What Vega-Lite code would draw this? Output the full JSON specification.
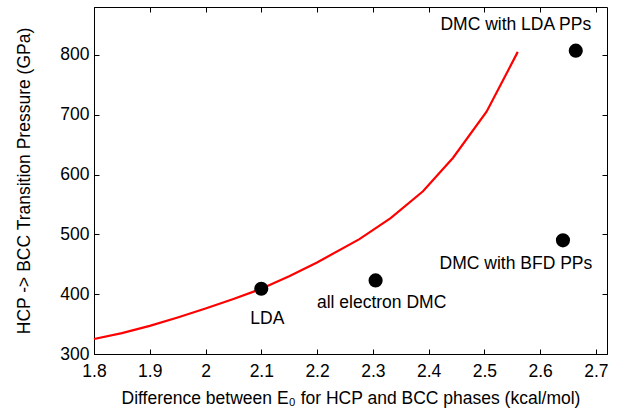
{
  "$schema": "https://vega.github.io/schema/vega-lite/v6.json",
  "width": 513,
  "height": 347,
  "autosize": "none",
  "padding": {"left": 94, "top": 7, "right": 17, "bottom": 57},
  "background": "white",
  "config": {
    "view": {"stroke": "black", "strokeWidth": 1},
    "font": "Liberation Sans",
    "axis": {
      "grid": false,
      "domainColor": "black",
      "tickColor": "black",
      "tickSize": -5,
      "labelFlush": false,
      "labelOverlap": false,
      "labelFont": "Liberation Sans",
      "labelFontSize": 17.5,
      "labelColor": "black",
      "titleFont": "Liberation Sans",
      "titleFontSize": 17.5,
      "titleFontWeight": "normal",
      "titleColor": "black"
    }
  },
  "datasets": {
    "curve": [
      {"x": 1.8, "y": 325},
      {"x": 1.85, "y": 335},
      {"x": 1.9, "y": 347},
      {"x": 1.95, "y": 361},
      {"x": 2.0, "y": 376},
      {"x": 2.05, "y": 392},
      {"x": 2.1, "y": 409},
      {"x": 2.15, "y": 430},
      {"x": 2.2, "y": 453},
      {"x": 2.276, "y": 492},
      {"x": 2.332, "y": 527},
      {"x": 2.39, "y": 572},
      {"x": 2.444, "y": 628},
      {"x": 2.504, "y": 705},
      {"x": 2.56, "y": 805}
    ],
    "points": [
      {"x": 2.1, "y": 409, "label": "LDA"},
      {"x": 2.305, "y": 423, "label": "all electron DMC"},
      {"x": 2.641, "y": 490, "label": "DMC with BFD PPs"},
      {"x": 2.664, "y": 807, "label": "DMC with LDA PPs"}
    ]
  },
  "layer": [
    {
      "data": {"name": "curve"},
      "mark": {"type": "line", "color": "#ff0000", "strokeWidth": 2.2},
      "encoding": {
        "x": {
          "field": "x", "type": "quantitative",
          "scale": {"domain": [1.8, 2.72], "nice": false, "zero": false},
          "axis": {
            "values": [1.8, 1.9, 2.0, 2.1, 2.2, 2.3, 2.4, 2.5, 2.6, 2.7],
            "format": "~g",
            "labelPadding": 13,
            "titlePadding": 10,
            "title": "Difference between E₀ for HCP and BCC phases (kcal/mol)"
          }
        },
        "y": {
          "field": "y", "type": "quantitative",
          "scale": {"domain": [300, 880], "nice": false, "zero": false},
          "axis": {
            "values": [300, 400, 500, 600, 700, 800],
            "labelPadding": 10,
            "titlePadding": 26,
            "title": "HCP -> BCC Transition Pressure (GPa)"
          }
        }
      }
    },
    {
      "data": {"name": "points"},
      "mark": {"type": "circle", "color": "black", "opacity": 1, "size": 200},
      "encoding": {
        "x": {"field": "x", "type": "quantitative", "axis": null},
        "y": {"field": "y", "type": "quantitative", "axis": null}
      }
    },
    {
      "data": {"name": "points"},
      "transform": [{"filter": "datum.label == 'LDA'"}],
      "mark": {"type": "text", "fontSize": 17.5, "color": "black", "dx": 6, "dy": 30, "align": "center", "baseline": "middle"},
      "encoding": {
        "x": {"field": "x", "type": "quantitative", "axis": null},
        "y": {"field": "y", "type": "quantitative", "axis": null},
        "text": {"field": "label"}
      }
    },
    {
      "data": {"name": "points"},
      "transform": [{"filter": "datum.label == 'all electron DMC'"}],
      "mark": {"type": "text", "fontSize": 17.5, "color": "black", "dx": 6, "dy": 23, "align": "center", "baseline": "middle"},
      "encoding": {
        "x": {"field": "x", "type": "quantitative", "axis": null},
        "y": {"field": "y", "type": "quantitative", "axis": null},
        "text": {"field": "label"}
      }
    },
    {
      "data": {"name": "points"},
      "transform": [{"filter": "datum.label == 'DMC with BFD PPs'"}],
      "mark": {"type": "text", "fontSize": 17.5, "color": "black", "dx": -47, "dy": 24, "align": "center", "baseline": "middle"},
      "encoding": {
        "x": {"field": "x", "type": "quantitative", "axis": null},
        "y": {"field": "y", "type": "quantitative", "axis": null},
        "text": {"field": "label"}
      }
    },
    {
      "data": {"name": "points"},
      "transform": [{"filter": "datum.label == 'DMC with LDA PPs'"}],
      "mark": {"type": "text", "fontSize": 17.5, "color": "black", "dx": -60, "dy": -26, "align": "center", "baseline": "middle"},
      "encoding": {
        "x": {"field": "x", "type": "quantitative", "axis": null},
        "y": {"field": "y", "type": "quantitative", "axis": null},
        "text": {"field": "label"}
      }
    },
    {
      "data": {"name": "points"},
      "mark": {"type": "point", "opacity": 0},
      "encoding": {
        "x": {
          "field": "x", "type": "quantitative",
          "axis": {"orient": "top", "values": [1.8, 1.9, 2.0, 2.1, 2.2, 2.3, 2.4, 2.5, 2.6, 2.7], "labels": false, "title": null, "domain": false}
        },
        "y": {
          "field": "y", "type": "quantitative",
          "axis": {"orient": "right", "values": [300, 400, 500, 600, 700, 800], "labels": false, "title": null, "domain": false}
        }
      }
    }
  ],
  "resolve": {"axis": {"x": "independent", "y": "independent"}}
}
